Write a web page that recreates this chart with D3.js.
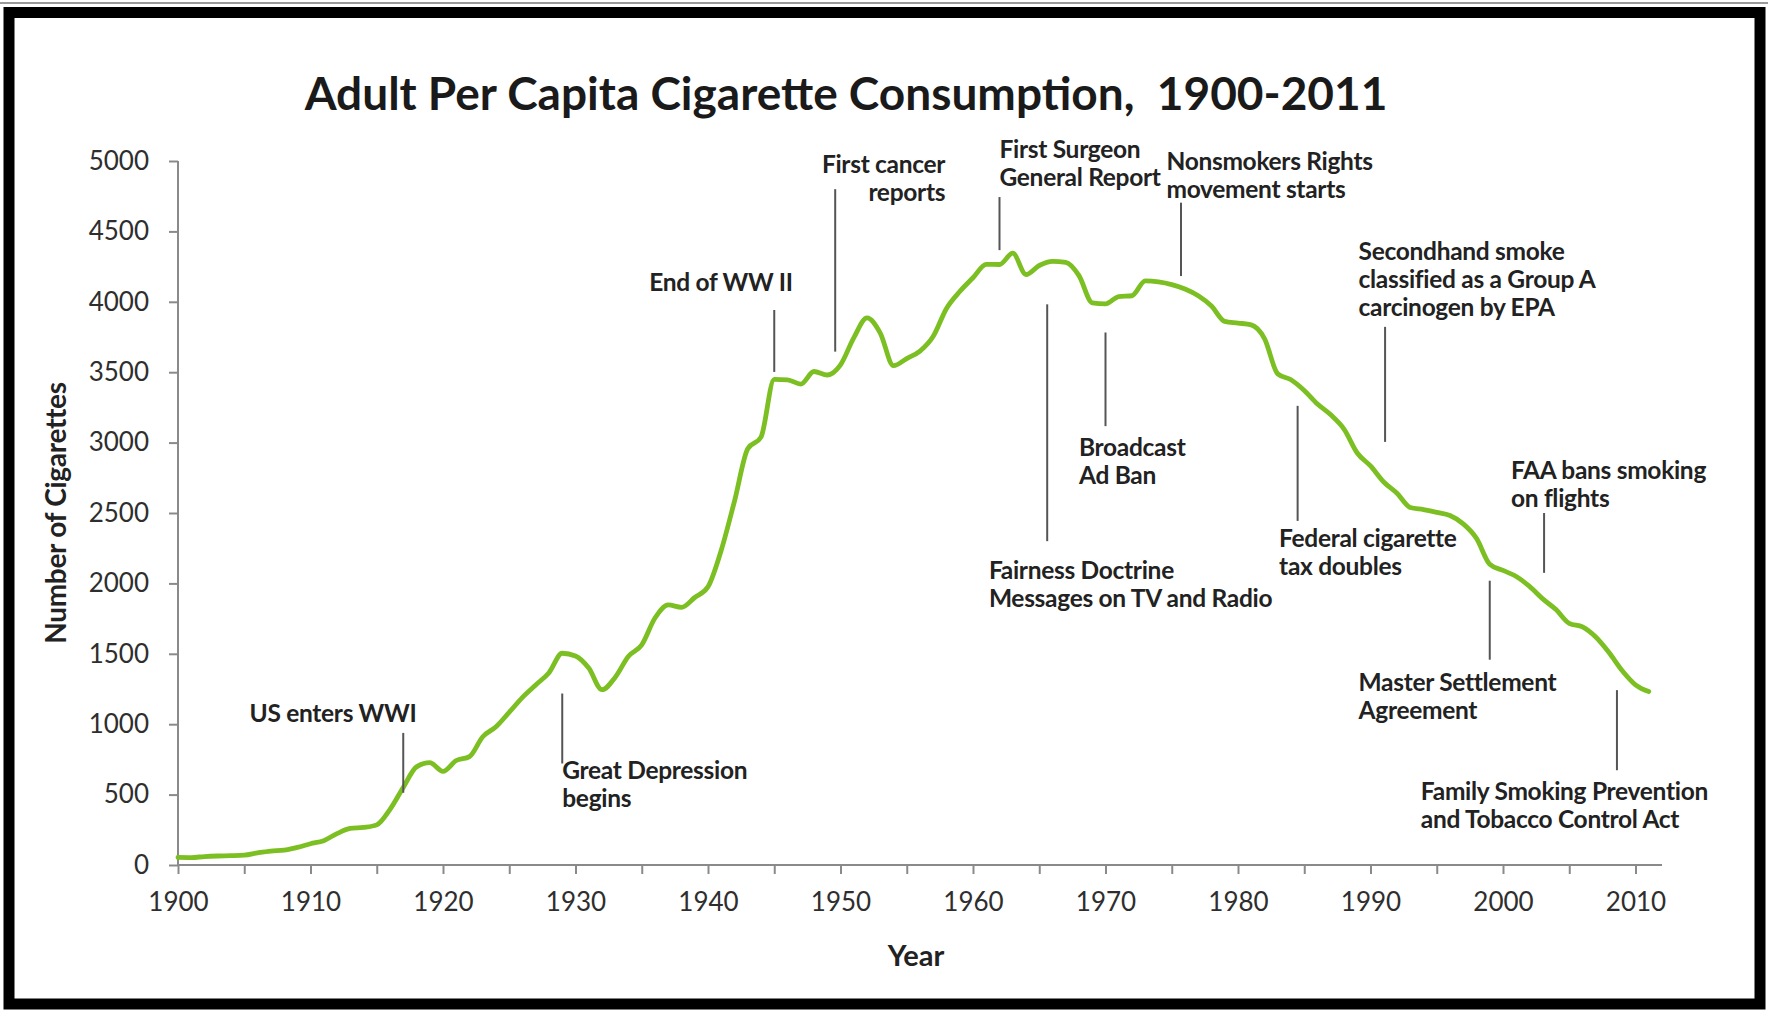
<!DOCTYPE html>
<html>
<head>
<meta charset="utf-8">
<script src="https://cdn.jsdelivr.net/npm/d3@7"></script>
<style>
  html, body { margin: 0; padding: 0; background: #fff; }
  svg { display: block; }
  text { font-family: Lato, "Open Sans", "DejaVu Sans", sans-serif; }
</style>
</head>
<body>
<svg id="chart" width="1768" height="1010"></svg>
<script>
// Adult per capita cigarette consumption, United States
const years = d3.range(1900, 2012);
const consumption = [
  54, 53, 60, 64, 66, 70, 86, 99, 105, 125,
  151, 173, 223, 260, 267, 285, 395, 551, 697, 727,
  665, 742, 770, 911, 982, 1085, 1191, 1279, 1366, 1504,
  1485, 1399, 1245, 1334, 1483, 1564, 1754, 1847, 1830, 1900,
  1976, 2236, 2585, 2956, 3039, 3449, 3446, 3416, 3505, 3480,
  3552, 3744, 3886, 3778, 3546, 3597, 3650, 3755, 3953, 4073,
  4171, 4266, 4265, 4345, 4194, 4258, 4287, 4280, 4186, 3993,
  3985, 4037, 4043, 4148, 4141, 4122, 4091, 4043, 3970, 3861,
  3849, 3836, 3739, 3488, 3446, 3370, 3274, 3197, 3096, 2926,
  2834, 2720, 2640, 2539, 2524, 2505, 2482, 2423, 2320, 2136,
  2092, 2049, 1979, 1890, 1814, 1716, 1691, 1619, 1509, 1380,
  1280, 1232
];

const yTicks = [0, 500, 1000, 1500, 2000, 2500, 3000, 3500, 4000, 4500, 5000];
const xTicks = d3.range(1900, 2011, 5);
const xTickLabels = ["1900", "1910", "1920", "1930", "1940", "1950", "1960", "1970", "1980", "1990", "2000", "2010"];

// Events: leader line at `year` from `top` to `bottom` (cigarettes),
// label anchored at (labelYear, labelValue) in the same units.
const eventYears   = [1917, 1929, 1945, 1949.6, 1962, 1975.7, 1991.1, 1970, 1965.6, 1984.5, 2003.1, 1999, 2008.6];
const eventLabels  = [
  ["US enters WWI"],
  ["Great Depression", "begins"],
  ["End of WW II"],
  ["First cancer", "reports"],
  ["First Surgeon", "General Report"],
  ["Nonsmokers Rights", "movement starts"],
  ["Secondhand smoke", "classified as a Group A", "carcinogen by EPA"],
  ["Broadcast", "Ad Ban"],
  ["Fairness Doctrine", "Messages on TV and Radio"],
  ["Federal cigarette", "tax doubles"],
  ["FAA bans smoking", "on flights"],
  ["Master Settlement", "Agreement"],
  ["Family Smoking Prevention", "and Tobacco Control Act"]
];
const eventLineTop    = [938, 1218, 3942, 4800, 4744, 4704, 3822, 3782, 3982, 3261, 2500, 2019, 1242];
const eventLineBottom = [513, 721, 3502, 3646, 4367, 4183, 3005, 3117, 2300, 2444, 2075, 1458, 673];
const eventLabelYear  = [1905.4, 1929.0, 1946.4, 1957.9, 1962.0, 1974.6, 1989.1, 1968.0, 1961.2, 1983.1, 2000.6, 1989.1, 1993.8];
const eventLabelValue = [1074, 673, 4135, 4976, 5080, 5000, 4359, 2965, 2091, 2316, 2804, 1298, 521];
const eventAnchor     = ["start", "start", "end", "end", "start", "start", "start", "start", "start", "start", "start", "start", "start"];

const svg = d3.select("#chart");
const W = 1768, H = 1010;

// Frame
svg.append("rect").attr("x", 0).attr("y", 0).attr("width", W).attr("height", H).attr("fill", "#fff");
svg.append("line").attr("x1", 0).attr("x2", W).attr("y1", 3).attr("y2", 3)
  .attr("stroke", "#9a9a9a").attr("stroke-width", 2);
svg.append("rect")
  .attr("x", 9).attr("y", 12.5).attr("width", 1751).attr("height", 991.5)
  .attr("fill", "none").attr("stroke", "#000").attr("stroke-width", 11);

const x = d3.scaleLinear().domain([1900, 2012]).range([178, 1662]);
const y = d3.scaleLinear().domain([0, 5000]).range([865, 161]);

// Title
svg.append("text")
  .attr("x", 846).attr("y", 110)
  .attr("text-anchor", "middle")
  .attr("font-size", 46).attr("font-weight", 700).attr("fill", "#1a1a1a")
  .style("white-space", "pre")
  .text("Adult Per Capita Cigarette Consumption,  1900-2011");

// Axes
const axisColor = "#8a8a8a";
const yAxis = svg.append("g")
  .attr("transform", `translate(${x(1900)},0)`)
  .call(d3.axisLeft(y).tickValues(yTicks).tickSize(9).tickPadding(20).tickFormat(d3.format("d")));
const xAxis = svg.append("g")
  .attr("transform", `translate(0,${y(0)})`)
  .call(d3.axisBottom(x).tickValues(xTicks).tickSize(9).tickPadding(19)
    .tickFormat(d => (d % 10 === 0 ? xTickLabels[(d - 1900) / 10] : "")));

[yAxis, xAxis].forEach(g => {
  g.select(".domain").attr("stroke", axisColor).attr("stroke-width", 2);
  g.selectAll(".tick line").attr("stroke", axisColor).attr("stroke-width", 2);
  g.selectAll(".tick text").attr("font-size", 26).attr("fill", "#2e2e2e")
    .style("font-family", "Lato, 'Open Sans', sans-serif");
});
// extend the x axis line slightly past the last year
xAxis.select(".domain").attr("d", `M${x(1900)},0V0H${x(2012)}`);
yAxis.select(".domain").attr("d", `M0,${y(5000)}H0V${y(0)}`);

// Axis titles
svg.append("text")
  .attr("transform", `translate(56,513) rotate(-90)`)
  .attr("text-anchor", "middle").attr("dy", "0.35em")
  .attr("font-size", 28).attr("font-weight", 700).attr("fill", "#222")
  .attr("letter-spacing", -0.3)
  .text("Number of Cigarettes");
svg.append("text")
  .attr("x", 916).attr("y", 956).attr("dy", "0.35em")
  .attr("text-anchor", "middle")
  .attr("font-size", 29).attr("font-weight", 700).attr("fill", "#222")
  .text("Year");

// Consumption line
const line = d3.line()
  .x((d, i) => x(years[i]))
  .y(d => y(d))
  .curve(d3.curveMonotoneX);
svg.append("path")
  .datum(consumption)
  .attr("d", line)
  .attr("fill", "none")
  .attr("stroke", "#7cbf22")
  .attr("stroke-width", 4.8)
  .attr("stroke-linejoin", "round")
  .attr("stroke-linecap", "round");

// Event annotations
const ev = svg.append("g").attr("class", "events");
eventYears.forEach((yr, i) => {
  ev.append("line")
    .attr("x1", x(yr)).attr("x2", x(yr))
    .attr("y1", y(eventLineTop[i])).attr("y2", y(eventLineBottom[i]))
    .attr("stroke", "#555").attr("stroke-width", 2);
  const t = ev.append("text")
    .attr("text-anchor", eventAnchor[i])
    .attr("font-size", 24.5).attr("font-weight", 700).attr("fill", "#222")
    .attr("letter-spacing", -0.3);
  eventLabels[i].forEach((s, k) => {
    t.append("tspan")
      .attr("x", x(eventLabelYear[i]))
      .attr("y", y(eventLabelValue[i]) + k * 28)
      .attr("dy", "0.35em")
      .text(s);
  });
});
</script>
</body>
</html>
